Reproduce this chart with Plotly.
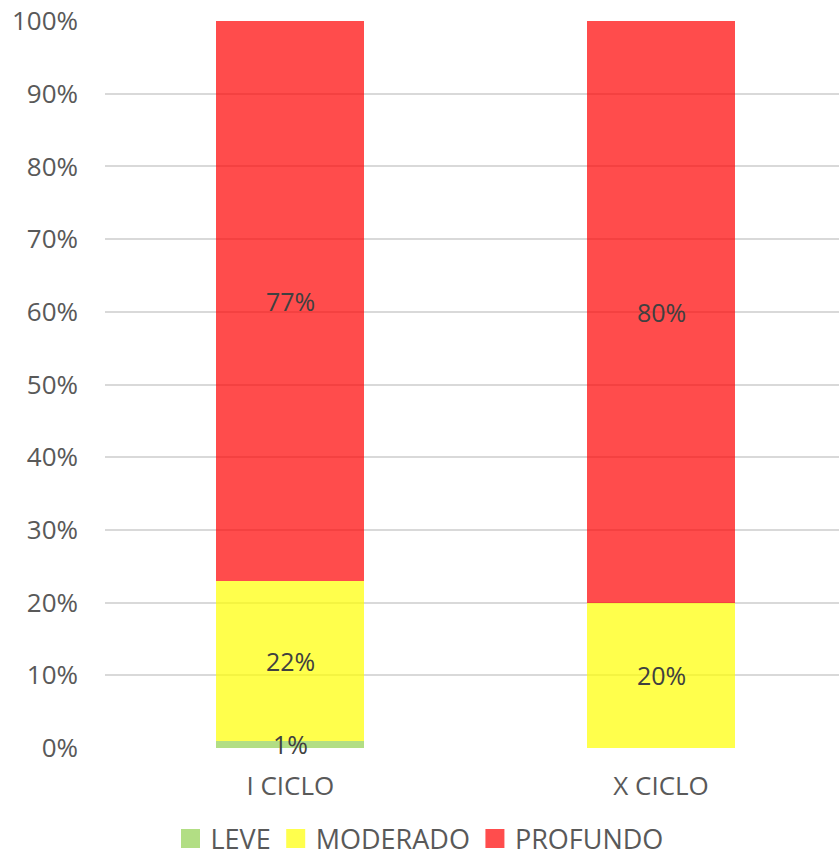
import plotly.graph_objects as go

categories = ["I CICLO", "X CICLO"]
leve = [1, 0]
moderado = [22, 20]
profundo = [77, 80]
series_names = ["LEVE", "MODERADO", "PROFUNDO"]
colors = ["rgba(146,208,80,0.7)", "rgba(255,255,0,0.7)", "rgba(255,0,0,0.7)"]
legend_colors = ["rgb(178,222,132)", "rgb(255,255,77)", "rgb(255,77,77)"]
y_ticks = [0, 10, 20, 30, 40, 50, 60, 70, 80, 90, 100]

FONT = "Open Sans"
series = [leve, moderado, profundo]
fig = go.Figure()
for name, vals, col in zip(series_names, series, colors):
    fig.add_trace(go.Bar(
        x=categories, y=vals, name=name,
        marker=dict(color=col, line=dict(width=0)),
        width=0.4, showlegend=False, hoverinfo="skip",
    ))

# data labels on top of all bars, at the middle of each segment
for i, cat in enumerate(categories):
    base = 0
    for vals in series:
        v = vals[i]
        if v > 0:
            fig.add_annotation(
                x=cat, y=base + v / 2, text=f"{v}%", showarrow=False,
                xref="x", yref="y",
                font=dict(color="#404040", size=25, family=FONT),
            )
        base += v

# legend entries with larger square symbols
for name, col in zip(series_names, legend_colors):
    fig.add_trace(go.Scatter(
        x=[None], y=[None], mode="markers", name=name,
        marker=dict(symbol="square", size=16, color=col, line=dict(width=3, color=col)),
        showlegend=True, hoverinfo="skip",
    ))

fig.update_layout(
    width=839, height=858,
    barmode="stack",
    margin=dict(l=105, r=0, t=21, b=110, autoexpand=False),
    paper_bgcolor="white", plot_bgcolor="white",
    font=dict(family=FONT, color="#595959", size=26),
    showlegend=True,
    legend=dict(orientation="h", xref="container", yref="paper",
                x=0.5, xanchor="center", y=-0.1252, yanchor="middle",
                font=dict(size=27, color="#595959", family=FONT),
                traceorder="normal", itemwidth=30, bgcolor="rgba(0,0,0,0)"),
    xaxis=dict(range=[-0.5, 1.48], showgrid=False, showline=False, zeroline=False,
               ticks="", ticklabelstandoff=20, tickfont=dict(size=26, color="#595959")),
    yaxis=dict(range=[0, 100], tickvals=y_ticks, ticktext=[f"{v}%" for v in y_ticks],
               showgrid=True, gridcolor="#D9D9D9", gridwidth=2, zeroline=False,
               showline=False, ticks="", ticklabelstandoff=26,
               tickfont=dict(size=26, color="#595959")),
)
fig.write_html("out.html")
